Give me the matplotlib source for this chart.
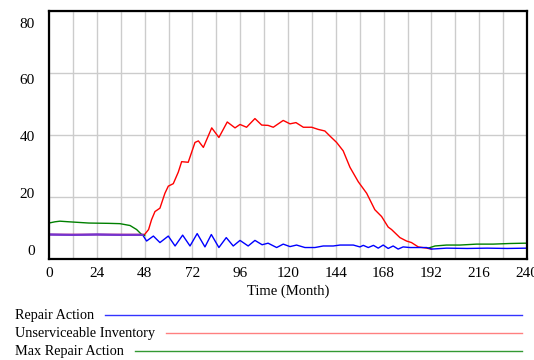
import numpy as np
import matplotlib
matplotlib.use('Agg')
import matplotlib.pyplot as plt

plt.rcParams['font.family'] = ['Liberation Serif', 'DejaVu Serif']

# Repair Action (blue)
repair_t = [0, 12, 24, 36, 47, 49, 52.4, 55.7, 59.9, 63.3, 67.1, 70.8, 74.4, 78.3, 81.5, 85.3,
            89.0, 92.5, 95.9, 100, 103.4, 107, 110, 114.3, 117.6, 121, 124.3, 128.5, 133.5, 137.7,
            142.7, 146.1, 152.8, 156.1, 157.8, 160.3, 162.9, 165.3, 167.8, 170.3, 172.8, 175.3,
            177.8, 181.2, 185.4, 189.6, 192.1, 199.6, 210, 220, 230, 240]
repair_v = [7.9, 7.8, 7.9, 7.8, 7.8, 5.8, 7.4, 5.3, 7.4, 4.2, 7.7, 4.2, 8.2, 3.9, 7.9, 3.7,
            6.9, 4.2, 6.0, 4.2, 6.0, 4.6, 5.1, 3.7, 4.8, 4.0, 4.5, 3.7, 3.7, 4.2,
            4.2, 4.5, 4.5, 3.9, 4.4, 3.7, 4.4, 3.5, 4.5, 3.4, 4.2, 3.2,
            3.9, 3.7, 3.7, 3.7, 3.2, 3.5, 3.4, 3.5, 3.4, 3.5]

# Unserviceable Inventory (red)
inv_t = [0, 48, 50, 51.5, 53.2, 55.7, 58.2, 59.9, 62.4, 64.9, 66.6, 69.9, 73.3, 75, 77.5, 81.7,
         85.3, 89.5, 93.4, 95.9, 99.2, 103.4, 106.8, 110, 112.6, 117.6, 121, 124, 127.7, 131.9,
         135.2, 138.5, 141, 144.4, 147.7, 151.1, 155.3, 159.5, 163.6, 167, 170.3, 172, 176.2,
         179.5, 182, 185.4, 189.6, 192.1]
inv_v = [7.9, 7.9, 9.5, 12.7, 15.3, 16.4, 21.2, 23.5, 24.3, 28, 31.4, 31.2, 37.6, 38.1, 36, 42.3,
         39.2, 44.2, 42.3, 43.4, 42.5, 45.3, 43.2, 43.1, 42.5, 44.7, 43.6, 44.0, 42.5, 42.5,
         41.8, 41.3, 39.7, 37.6, 34.9, 29.6, 24.9, 21.2, 15.9, 13.7, 10.3, 9.5, 6.9,
         5.8, 5.3, 3.9, 3.5, 3.2]

# Max Repair Action (green) - equal to Repair Action between 48 and 190 (hidden)
max_t = [0, 3, 5.5, 10, 20, 30, 35.6, 40.7, 44, 46.5, 48, np.nan,
         190.4, 193.8, 199.6, 206.3, 214.7, 223, 231.4, 238.9, 240]
max_v = [11.6, 12.0, 12.2, 12.0, 11.6, 11.5, 11.4, 10.8, 9.5, 7.9, 7.6, np.nan,
         3.5, 4.2, 4.5, 4.5, 4.8, 4.8, 5.0, 5.1, 5.1]

x_ticks = list(range(0, 241, 24))
y_ticks = [0, 20, 40, 60, 80]

fig = plt.figure(figsize=(5.34, 3.6), dpi=100)
ax = fig.add_axes([49 / 534, 1 - 259 / 360, 478 / 534, 248 / 360])

ax.plot(inv_t, inv_v, color='#ff0000', lw=1.0)
ax.plot(max_t, max_v, color='#008000', lw=1.0)
ax.plot(repair_t, repair_v, color='#0000ff', lw=1.0)
# overlap of repair action and inventory before month 48 shows as purple
n48 = sum(1 for t in repair_t if t <= 48)
ax.plot(repair_t[:n48], repair_v[:n48], color='#7733cc', lw=1.6)

ax.set_xlim(0, 240)
ax.set_ylim(0, 80)
ax.set_xticks(x_ticks)
ax.set_xticks(range(12, 240, 12), minor=True)
ax.grid(True, which='both', axis='x', color='#cccccc', lw=1.0)

# y labels sit evenly spread a little inside the frame (Vensim style), grid on the values
ax.set_yticks([2.9 + v * 0.917 for v in y_ticks])
ax.set_yticklabels([str(v) for v in y_ticks])
ax.set_yticks(y_ticks, minor=True)
ax.grid(True, which='minor', axis='y', color='#cccccc', lw=1.0)
ax.set_axisbelow(True)

ax.tick_params(which='both', length=0, labelsize=11)
ax.tick_params(axis='x', pad=6)
ax.tick_params(axis='y', pad=10)
for s in ax.spines.values():
    s.set_linewidth(1.6)
ax.set_xlabel('Time (Month)', fontsize=10.5, labelpad=3)

# legend below the chart
names = ['Repair Action', 'Unserviceable Inventory', 'Max Repair Action']
colors = ['#3333ff', '#ff8080', '#339933']
rows_y = [315, 333, 351]
fig.canvas.draw()
r = fig.canvas.get_renderer()
for name, c, yy in zip(names, colors, rows_y):
    yf = 1 - yy / 360
    t = fig.text(15 / 534, yf, name, fontsize=10.3, va='center', ha='left')
    bb = t.get_window_extent(renderer=r)
    x0 = (bb.x1 + 11) / 534
    fig.add_artist(plt.Line2D([x0, 522 / 534], [yf, yf], color=c, lw=1.0,
                              transform=fig.transFigure))

fig.savefig('out.png', dpi=100)
